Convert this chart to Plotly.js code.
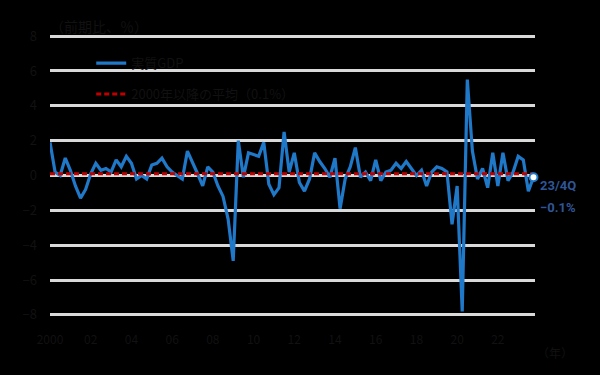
<!DOCTYPE html>
<html>
<head>
<meta charset="utf-8">
<script src="https://cdn.plot.ly/plotly-3.0.1.min.js"></script>
<style>html,body{margin:0;padding:0;background:#000;}#chart{width:600px;height:375px;}</style>
</head>
<body>
<div id="chart"></div>
<script>
// Quarterly real GDP growth (q/q, %), 2000Q1 - 2023Q4
const startYear = 2000;
const gdpGrowth = [
  1.9, 0.2, 0.0, 1.0,   // 2000
  0.3, -0.6, -1.3, -0.8, // 2001
  0.1, 0.7, 0.3, 0.4,   // 2002
  0.2, 0.9, 0.5, 1.1,   // 2003
  0.7, -0.2, 0.0, -0.2, // 2004
  0.6, 0.7, 1.0, 0.5,   // 2005
  0.2, 0.0, -0.2, 1.4,  // 2006
  0.8, 0.1, -0.6, 0.5,  // 2007
  0.2, -0.6, -1.2, -2.5,// 2008
  -4.9, 2.0, -0.1, 1.3, // 2009
  1.2, 1.1, 1.9, -0.5,  // 2010
  -1.1, -0.7, 2.5, 0.2, // 2011
  1.3, -0.4, -0.9, -0.2,// 2012
  1.3, 0.8, 0.4, -0.1,  // 2013
  1.0, -1.9, -0.2, 0.5, // 2014
  1.6, -0.1, 0.2, -0.3, // 2015
  0.9, -0.3, 0.2, 0.3,  // 2016
  0.7, 0.4, 0.8, 0.4,   // 2017
  0.0, 0.3, -0.6, 0.2,  // 2018
  0.5, 0.4, 0.2, -2.8,  // 2019
  -0.6, -7.8, 5.5, 1.4, // 2020
  -0.2, 0.4, -0.7, 1.3, // 2021
  -0.6, 1.3, -0.3, 0.2, // 2022
  1.1, 0.9, -0.9, -0.1  // 2023
];
const avgValue = 0.1;
const seriesName = '実質GDP';
const avgName = '2000年以降の平均（0.1%）';
const xTickLabels = ['2000','02','04','06','08','10','12','14','16','18','20','22'];
const yTickVals = [-8,-6,-4,-2,0,2,4,6,8];
const lastPeriod = '23/4Q';
const lastValueText = '−0.1%';

const idx = gdpGrowth.map((v,i)=>i);
const quarterLabels = gdpGrowth.map((v,i)=> (startYear + Math.floor(i/4)) + 'Q' + (i%4+1));
const xTickVals = xTickLabels.map((t,k)=>k*8);
const lastI = gdpGrowth.length-1;

const fam = '"Noto Sans CJK JP", "Noto Sans", sans-serif';
const txt = '#111';

const traces = [
  {x: idx, y: gdpGrowth, text: quarterLabels, type:'scatter', mode:'lines', name: seriesName,
   legendgroup:'a', line:{color:'#1F78C8', width:3.2}},
  {x: [idx[0], idx[lastI]], y:[avgValue, avgValue], type:'scatter', mode:'lines', name: avgName,
   legendgroup:'b', line:{color:'#C00000', width:3, dash:'5px,3px'}},
  {x:[idx[lastI]], y:[gdpGrowth[lastI]], type:'scatter', mode:'markers', showlegend:false,
   marker:{color:'#ffffff', size:8, line:{color:'#1F78C8', width:2}}, cliponaxis:false}
];

const layout = {
  width:600, height:375,
  paper_bgcolor:'#000', plot_bgcolor:'#000',
  font: {family:fam, size:12, color:txt},
  margin:{l:50, r:65, t:34, b:58},
  showlegend:true,
  legend:{x:0.085, y:0.95, xanchor:'left', yanchor:'top', bgcolor:'rgba(0,0,0,0)',
          font:{family:fam, size:13, color:txt}, tracegroupgap:11, itemwidth:30},
  xaxis:{range:[0, 95.3], tickvals:xTickVals, ticktext:xTickLabels, showgrid:false, zeroline:false,
         showline:false, ticks:'', ticklabelstandoff:14, tickfont:{size:12, color:txt}},
  yaxis:{range:[-8.12,8.12], tickvals:yTickVals, showgrid:true, gridcolor:'#d9d9d9', gridwidth:3,
         zeroline:false, showline:false, ticks:'', ticklabelstandoff:12, tickfont:{size:13, color:txt}},
  annotations:[
    {xref:'paper', yref:'paper', x:-0.005, y:0.985, xanchor:'left', yanchor:'bottom', showarrow:false,
     text:'（前期比、％）', font:{size:14, color:txt}},
    {xref:'paper', yref:'paper', x:1.0, y:-0.09, xanchor:'left', yanchor:'top', showarrow:false,
     text:'（年）', font:{size:12, color:txt}},
    {x: idx[lastI], y: gdpGrowth[lastI], xanchor:'left', yanchor:'middle', xshift:5, yshift:-8, showarrow:false,
     text: lastPeriod, font:{size:13, color:'#2F5597', family:'Roboto, sans-serif', weight:'bold'}},
    {x: idx[lastI], y: gdpGrowth[lastI], xanchor:'left', yanchor:'middle', xshift:5, yshift:-30, showarrow:false,
     text: lastValueText, font:{size:13, color:'#2F5597', family:'Roboto, sans-serif', weight:'bold'}}
  ]
};
Plotly.newPlot('chart', traces, layout, {displayModeBar:false, staticPlot:true});
</script>
</body>
</html>
